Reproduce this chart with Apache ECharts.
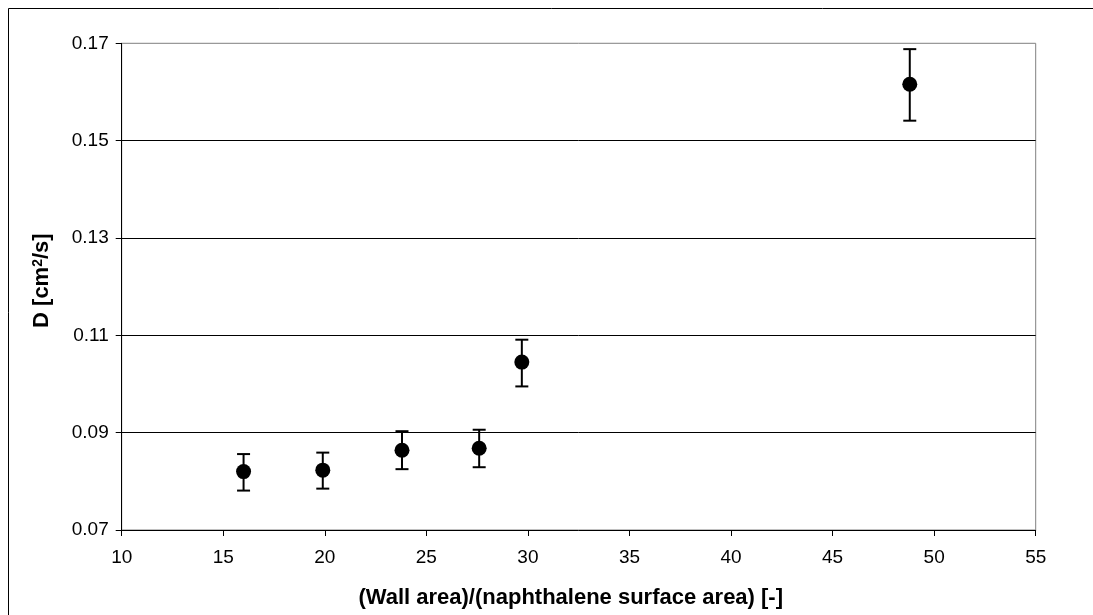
<!DOCTYPE html>
<html>
<head>
<meta charset="utf-8">
<script src="https://cdn.jsdelivr.net/npm/echarts@6/dist/echarts.min.js"></script>
<style>html,body{margin:0;padding:0;background:#fff;}#c{width:1093px;height:615px;}</style>
</head>
<body>
<div id="c"></div>
<script>
var xValues = [16.0, 19.9, 23.8, 27.6, 29.7, 48.8];
var dValues = [0.0820, 0.0823, 0.0864, 0.0868, 0.1045, 0.1616];
var errLow  = [0.0781, 0.0785, 0.0825, 0.0829, 0.0995, 0.1541];
var errHigh = [0.0856, 0.0859, 0.0903, 0.0906, 0.1091, 0.1688];

var points = xValues.map(function (x, i) { return [x, dValues[i]]; });
var bars = xValues.map(function (x, i) { return [x, errLow[i], errHigh[i]]; });

var chart = echarts.init(document.getElementById('c'), null, {renderer: 'canvas'});
var font = '"Liberation Sans", Arial, sans-serif';
chart.setOption({
  animation: false,
  backgroundColor: '#fff',
  graphic: [{
    type: 'rect', silent: true, z: -1,
    shape: {x: 8.5, y: 8.5, width: 1300, height: 800},
    style: {fill: 'none', stroke: '#000', lineWidth: 1}
  }],
  grid: {left: 121.7, right: 57.3, top: 43.3, bottom: 85, show: true, borderColor: '#808080', borderWidth: 1, backgroundColor: 'transparent'},
  xAxis: {
    type: 'value', min: 10, max: 55, interval: 5,
    name: '(Wall area)/(naphthalene surface area) [-]',
    nameLocation: 'middle', nameGap: 57,
    nameTextStyle: {fontFamily: font, fontSize: 22, fontWeight: 'bold', color: '#000', padding: [0, 16, 0, 0]},
    axisLine: {show: true, lineStyle: {color: '#000', width: 1}},
    axisTick: {show: true, inside: false, length: 6, lineStyle: {color: '#000'}},
    axisLabel: {fontFamily: font, fontSize: 19, color: '#000', margin: 18},
    splitLine: {show: false}
  },
  yAxis: {
    type: 'value', min: 0.07, max: 0.17, interval: 0.02,
    name: 'D [cm{sup|2}/s]',
    nameLocation: 'middle', nameGap: 68, nameRotate: 90,
    nameTextStyle: {fontFamily: font, fontSize: 22, fontWeight: 'bold', color: '#000', padding: [0, 0, 0, 12],
      rich: {sup: {fontFamily: font, fontSize: 14, fontWeight: 'bold', color: '#000', verticalAlign: 'top', padding: [0,0,9,0]}}},
    axisLine: {show: true, lineStyle: {color: '#000', width: 1}},
    axisTick: {show: true, inside: false, length: 6, lineStyle: {color: '#000'}},
    axisLabel: {fontFamily: font, fontSize: 19, color: '#000', margin: 13,
      formatter: function (v) { return v.toFixed(2); }},
    splitLine: {show: true, showMinLine: false, showMaxLine: false, lineStyle: {color: '#000', width: 1}}
  },
  series: [{
    type: 'custom',
    data: bars,
    z: 3,
    renderItem: function (params, api) {
      var x = api.value(0);
      var lo = api.coord([x, api.value(1)]);
      var hi = api.coord([x, api.value(2)]);
      var w = 6.5;
      var st = {stroke: '#000', lineWidth: 2};
      return {
        type: 'group',
        children: [
          {type: 'line', shape: {x1: lo[0], y1: lo[1], x2: hi[0], y2: hi[1]}, style: st},
          {type: 'line', shape: {x1: lo[0]-w, y1: lo[1], x2: lo[0]+w, y2: lo[1]}, style: st},
          {type: 'line', shape: {x1: hi[0]-w, y1: hi[1], x2: hi[0]+w, y2: hi[1]}, style: st}
        ]
      };
    }
  }, {
    type: 'scatter',
    data: points,
    symbol: 'circle',
    symbolSize: 15,
    z: 4,
    itemStyle: {color: '#000', opacity: 1}
  }]
});
</script>
</body>
</html>
